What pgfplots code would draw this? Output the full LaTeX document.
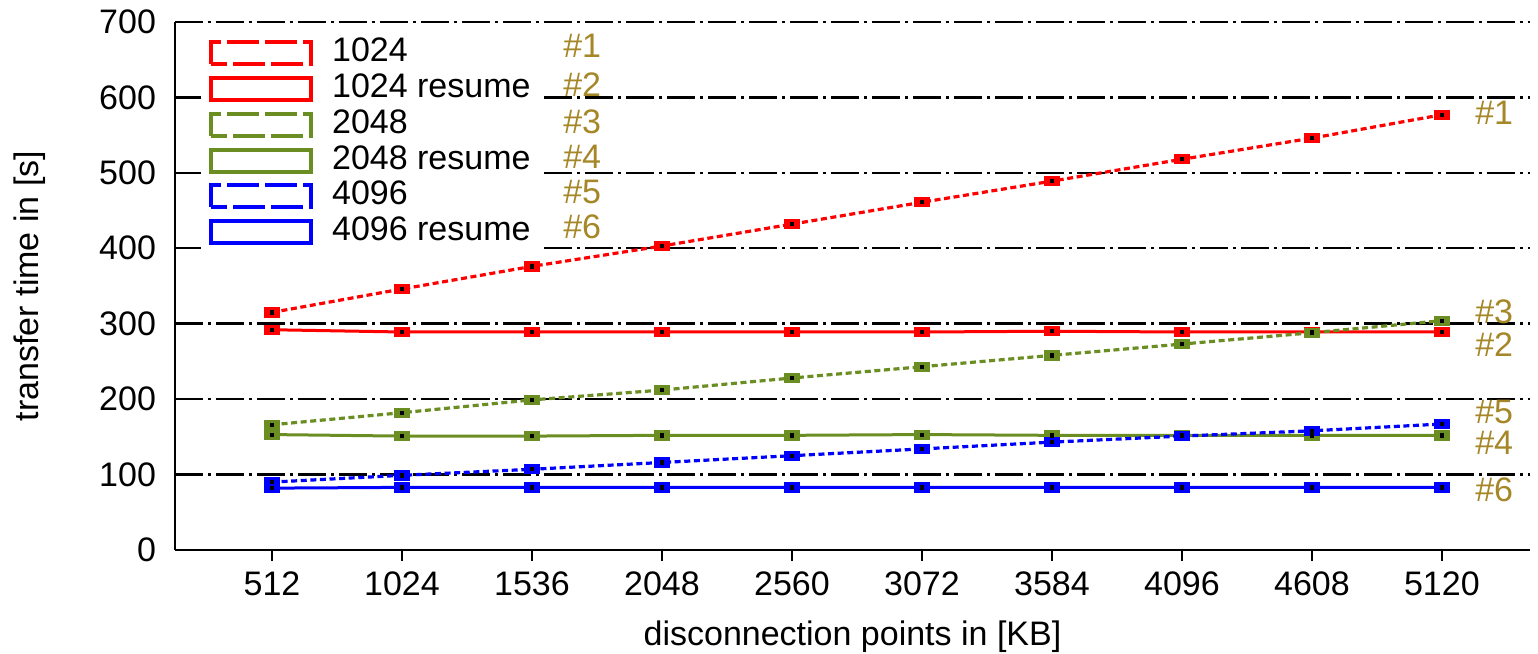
\documentclass[border=0pt]{standalone}
\usepackage{pgfplots}
\usepackage{pgfplotstable}
\pgfplotsset{compat=1.18}
\usepackage{fontspec}
\setmainfont{Liberation Sans}
\definecolor{myred}{RGB}{255,0,0}
\definecolor{mygreen}{RGB}{107,142,35}
\definecolor{myblue}{RGB}{0,0,255}
\definecolor{lab}{RGB}{165,135,40}
\newcommand{\fs}{\fontsize{17}{20}\selectfont}
\pgfplotsset{boxleg/.style={legend image code/.code={\draw[#1,line width=2pt] (0pt,-5.5pt) rectangle (50pt,5.5pt);}}}
\pgfplotstableread{
x    a   b   c   d   e   f
512  315 292 166 153 90  82
1024 346 289 182 151 99  83
1536 376 289 199 151 107 83
2048 403 289 212 152 116 83
2560 432 289 228 152 125 83
3072 461 289 243 153 134 83
3584 489 290 258 152 143 83
4096 518 289 273 152 151 83
4608 546 289 288 152 158 83
5120 577 289 304 152 167 83
}\data
\begin{document}
\begin{tikzpicture}
\begin{axis}[
 scale only axis, width=677.5pt, height=264pt,
 xmin=130, xmax=5467, ymin=0, ymax=700,
 axis x line*=bottom, axis y line*=left,
 axis line style={line width=1pt,-},
 xtick={512,1024,1536,2048,2560,3072,3584,4096,4608,5120},
 xticklabels={512,1024,1536,2048,2560,3072,3584,4096,4608,5120},
 xtick align=outside, major tick length=5.5pt,
 x tick style={line width=1pt, black},
 ytick={0,100,200,300,400,500,600,700},
 y tick style={draw=none},
 ymajorgrids,
 grid style={black, line width=1.2pt, dash pattern=on 14pt off 2.5pt on 1.5pt off 2.5pt},
 tick label style={font=\fs},
 xticklabel style={yshift=-2pt},
 yticklabel style={xshift=-6pt},
 /pgf/number format/assume math mode=true,
 label style={font=\fs},
 xlabel={disconnection points in [KB]},
 ylabel={transfer time in [s]},
 xlabel shift=5.5pt,
 ylabel shift=20pt,
 legend style={at={(0.019,0.992)},anchor=north west, draw=none, fill=white,
   font=\fs, row sep=-0.6pt, inner sep=4pt,
   nodes={text height=12pt, text depth=3.5pt, inner sep=1.5pt},
   /tikz/every odd column/.append style={column sep=8pt}},
 legend cell align=left,
]
\addlegendimage{boxleg={myred, dash pattern=on 16pt off 3pt}}
\addlegendentry{1024}
\addlegendimage{boxleg={myred}}
\addlegendentry{1024 resume}
\addlegendimage{boxleg={mygreen, dash pattern=on 16pt off 3pt}}
\addlegendentry{2048}
\addlegendimage{boxleg={mygreen}}
\addlegendentry{2048 resume}
\addlegendimage{boxleg={myblue, dash pattern=on 16pt off 3pt}}
\addlegendentry{4096}
\addlegendimage{boxleg={myblue}}
\addlegendentry{4096 resume}

\addplot[forget plot, myred, line width=1.6pt, dash pattern=on 3pt off 1.8pt, mark=square*, mark size=2.3pt, mark options={solid, line width=0.4pt, xscale=1.6}] table[x=x,y=a]{\data};
\addplot[forget plot, myred, line width=1.5pt, mark=square*, mark size=2.3pt, mark options={solid, line width=0.4pt, xscale=1.6}] table[x=x,y=b]{\data};
\addplot[forget plot, mygreen, line width=1.6pt, dash pattern=on 3pt off 1.8pt, mark=square*, mark size=2.3pt, mark options={solid, line width=0.4pt, xscale=1.6}] table[x=x,y=c]{\data};
\addplot[forget plot, mygreen, line width=1.5pt, mark=square*, mark size=2.3pt, mark options={solid, line width=0.4pt, xscale=1.6}] table[x=x,y=d]{\data};
\addplot[forget plot, myblue, line width=1.6pt, dash pattern=on 3pt off 1.8pt, mark=square*, mark size=2.3pt, mark options={solid, line width=0.4pt, xscale=1.6}] table[x=x,y=e]{\data};
\addplot[forget plot, myblue, line width=1.5pt, mark=square*, mark size=2.3pt, mark options={solid, line width=0.4pt, xscale=1.6}] table[x=x,y=f]{\data};
\foreach \c in {a,b,c,d,e,f}{
\addplot[forget plot, only marks, black, mark=square*, mark size=0.8pt] table[x=x,y=\c]{\data};
}

\begin{scope}[every node/.style={anchor=west, text=lab, font=\fs, inner sep=0pt}]
\node at (axis cs:1658,669) {\#1};
\node at (axis cs:1658,617) {\#2};
\node at (axis cs:1658,568) {\#3};
\node at (axis cs:1658,521) {\#4};
\node at (axis cs:1658,475) {\#5};
\node at (axis cs:1658,429) {\#6};
\node at (axis cs:5250,579) {\#1};
\node at (axis cs:5250,316) {\#3};
\node at (axis cs:5250,272) {\#2};
\node at (axis cs:5250,183) {\#5};
\node at (axis cs:5250,142) {\#4};
\node at (axis cs:5250,80) {\#6};
\end{scope}
\end{axis}
\pgfresetboundingbox
\path ([xshift=-87.5pt,yshift=-52pt]current axis.south west) rectangle ([xshift=4pt,yshift=11pt]current axis.north east);
\end{tikzpicture}
\end{document}
